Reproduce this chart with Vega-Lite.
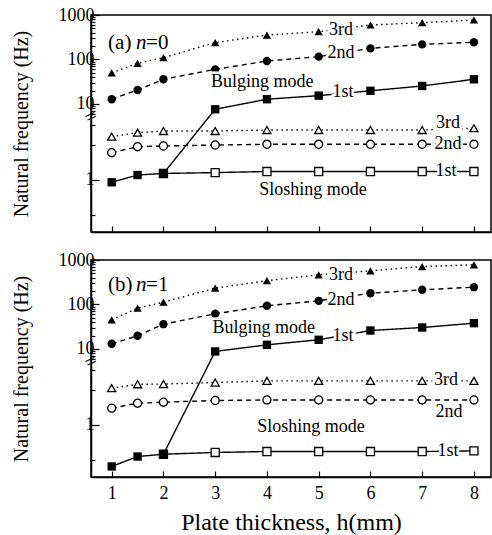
{
  "$schema": "https://vega.github.io/schema/vega-lite/v6.json",
  "padding": {"left": 10, "top": 5, "right": 2, "bottom": 4},
  "spacing": 16,
  "config": {
    "font": "Liberation Serif",
    "view": {"stroke": "black", "strokeWidth": 1.5},
    "axis": {"grid": false, "domainColor": "black", "domainWidth": 1.5, "tickColor": "black", "tickWidth": 1.2, "labelColor": "black", "titleColor": "black", "labelFont": "Liberation Serif", "titleFont": "Liberation Serif", "labelFontSize": 18, "titleFontSize": 20, "titleFontWeight": "normal"},
    "text": {"font": "Liberation Serif"}
  },
  "datasets": {
    "pts": [
      {"p":"a","s":"B","o":"3rd","x":1,"f":50},{"p":"a","s":"B","o":"3rd","x":1.5,"f":82},{"p":"a","s":"B","o":"3rd","x":2,"f":110},{"p":"a","s":"B","o":"3rd","x":3,"f":239},{"p":"a","s":"B","o":"3rd","x":4,"f":355},{"p":"a","s":"B","o":"3rd","x":5,"f":421},{"p":"a","s":"B","o":"3rd","x":6,"f":596},{"p":"a","s":"B","o":"3rd","x":7,"f":671},{"p":"a","s":"B","o":"3rd","x":8,"f":772},
      {"p":"a","s":"B","o":"2nd","x":1,"f":12.8},{"p":"a","s":"B","o":"2nd","x":1.5,"f":20.6},{"p":"a","s":"B","o":"2nd","x":2,"f":35.9},{"p":"a","s":"B","o":"2nd","x":3,"f":60},{"p":"a","s":"B","o":"2nd","x":4,"f":92.5},{"p":"a","s":"B","o":"2nd","x":5,"f":116},{"p":"a","s":"B","o":"2nd","x":6,"f":178},{"p":"a","s":"B","o":"2nd","x":7,"f":219},{"p":"a","s":"B","o":"2nd","x":8,"f":244},
      {"p":"a","s":"B","o":"1st","x":1,"f":0.955},{"p":"a","s":"B","o":"1st","x":1.5,"f":1.105},{"p":"a","s":"B","o":"1st","x":2,"f":1.14},{"p":"a","s":"B","o":"1st","x":3,"f":7.6},{"p":"a","s":"B","o":"1st","x":4,"f":12.8},{"p":"a","s":"B","o":"1st","x":5,"f":15.4},{"p":"a","s":"B","o":"1st","x":6,"f":19.8},{"p":"a","s":"B","o":"1st","x":7,"f":25.4},{"p":"a","s":"B","o":"1st","x":8,"f":35.9},
      {"p":"a","s":"S","o":"1st","x":2,"f":1.14},{"p":"a","s":"S","o":"1st","x":3,"f":1.16},{"p":"a","s":"S","o":"1st","x":4,"f":1.185},{"p":"a","s":"S","o":"1st","x":5,"f":1.185},{"p":"a","s":"S","o":"1st","x":6,"f":1.185},{"p":"a","s":"S","o":"1st","x":7,"f":1.185},{"p":"a","s":"S","o":"1st","x":8,"f":1.185},
      {"p":"a","s":"S","o":"2nd","x":1,"f":1.727},{"p":"a","s":"S","o":"2nd","x":1.5,"f":1.947},{"p":"a","s":"S","o":"2nd","x":2,"f":1.975},{"p":"a","s":"S","o":"2nd","x":3,"f":2.015},{"p":"a","s":"S","o":"2nd","x":4,"f":2.044},{"p":"a","s":"S","o":"2nd","x":5,"f":2.044},{"p":"a","s":"S","o":"2nd","x":6,"f":2.044},{"p":"a","s":"S","o":"2nd","x":7,"f":2.044},{"p":"a","s":"S","o":"2nd","x":8,"f":2.044},
      {"p":"a","s":"S","o":"3rd","x":1,"f":2.38},{"p":"a","s":"S","o":"3rd","x":1.5,"f":2.58},{"p":"a","s":"S","o":"3rd","x":2,"f":2.667},{"p":"a","s":"S","o":"3rd","x":3,"f":2.667},{"p":"a","s":"S","o":"3rd","x":4,"f":2.72},{"p":"a","s":"S","o":"3rd","x":5,"f":2.72},{"p":"a","s":"S","o":"3rd","x":6,"f":2.72},{"p":"a","s":"S","o":"3rd","x":7,"f":2.72},{"p":"a","s":"S","o":"3rd","x":8,"f":2.82},
      {"p":"b","s":"B","o":"3rd","x":1,"f":45.3},{"p":"b","s":"B","o":"3rd","x":1.5,"f":82.6},{"p":"b","s":"B","o":"3rd","x":2,"f":112.7},{"p":"b","s":"B","o":"3rd","x":3,"f":232},{"p":"b","s":"B","o":"3rd","x":4,"f":343},{"p":"b","s":"B","o":"3rd","x":5,"f":465},{"p":"b","s":"B","o":"3rd","x":6,"f":571},{"p":"b","s":"B","o":"3rd","x":7,"f":714},{"p":"b","s":"B","o":"3rd","x":8,"f":780},
      {"p":"b","s":"B","o":"2nd","x":1,"f":13.1},{"p":"b","s":"B","o":"2nd","x":1.5,"f":19.8},{"p":"b","s":"B","o":"2nd","x":2,"f":36.1},{"p":"b","s":"B","o":"2nd","x":3,"f":61.8},{"p":"b","s":"B","o":"2nd","x":4,"f":93.5},{"p":"b","s":"B","o":"2nd","x":5,"f":121},{"p":"b","s":"B","o":"2nd","x":6,"f":179},{"p":"b","s":"B","o":"2nd","x":7,"f":214},{"p":"b","s":"B","o":"2nd","x":8,"f":245},
      {"p":"b","s":"B","o":"1st","x":1,"f":0.436},{"p":"b","s":"B","o":"1st","x":1.5,"f":0.532},{"p":"b","s":"B","o":"1st","x":2,"f":0.557},{"p":"b","s":"B","o":"1st","x":3,"f":8.8},{"p":"b","s":"B","o":"1st","x":4,"f":12.4},{"p":"b","s":"B","o":"1st","x":5,"f":16.1},{"p":"b","s":"B","o":"1st","x":6,"f":26},{"p":"b","s":"B","o":"1st","x":7,"f":30.4},{"p":"b","s":"B","o":"1st","x":8,"f":38},
      {"p":"b","s":"S","o":"1st","x":2,"f":0.557},{"p":"b","s":"S","o":"1st","x":3,"f":0.577},{"p":"b","s":"S","o":"1st","x":4,"f":0.588},{"p":"b","s":"S","o":"1st","x":5,"f":0.588},{"p":"b","s":"S","o":"1st","x":6,"f":0.588},{"p":"b","s":"S","o":"1st","x":7,"f":0.588},{"p":"b","s":"S","o":"1st","x":8,"f":0.596},
      {"p":"b","s":"S","o":"2nd","x":1,"f":1.4},{"p":"b","s":"S","o":"2nd","x":1.5,"f":1.547},{"p":"b","s":"S","o":"2nd","x":2,"f":1.578},{"p":"b","s":"S","o":"2nd","x":3,"f":1.633},{"p":"b","s":"S","o":"2nd","x":4,"f":1.65},{"p":"b","s":"S","o":"2nd","x":5,"f":1.65},{"p":"b","s":"S","o":"2nd","x":6,"f":1.65},{"p":"b","s":"S","o":"2nd","x":7,"f":1.65},{"p":"b","s":"S","o":"2nd","x":8,"f":1.65},
      {"p":"b","s":"S","o":"3rd","x":1,"f":2.09},{"p":"b","s":"S","o":"3rd","x":1.5,"f":2.26},{"p":"b","s":"S","o":"3rd","x":2,"f":2.27},{"p":"b","s":"S","o":"3rd","x":3,"f":2.34},{"p":"b","s":"S","o":"3rd","x":4,"f":2.42},{"p":"b","s":"S","o":"3rd","x":5,"f":2.42},{"p":"b","s":"S","o":"3rd","x":6,"f":2.42},{"p":"b","s":"S","o":"3rd","x":7,"f":2.42},{"p":"b","s":"S","o":"3rd","x":8,"f":2.42}
    ],
    "ann": [
      {"p":"a","x":5.43,"f":460,"t":"3rd"},{"p":"a","x":5.43,"f":140,"t":"2nd"},{"p":"a","x":5.47,"f":18.6,"t":"1st"},{"p":"a","x":3.91,"f":31.2,"t":"Bulging mode"},
      {"p":"a","x":7.5,"f":3.13,"t":"3rd"},{"p":"a","x":7.5,"f":2.06,"t":"2nd"},{"p":"a","x":7.46,"f":1.2,"t":"1st"},{"p":"a","x":4.89,"f":0.819,"t":"Sloshing mode"},
      {"p":"b","x":5.43,"f":449,"t":"3rd"},{"p":"b","x":5.43,"f":128,"t":"2nd"},{"p":"b","x":5.47,"f":19.1,"t":"1st"},{"p":"b","x":3.94,"f":29.3,"t":"Bulging mode"},
      {"p":"b","x":7.46,"f":2.47,"t":"3rd"},{"p":"b","x":7.52,"f":1.31,"t":"2nd"},{"p":"b","x":7.5,"f":0.597,"t":"1st"},{"p":"b","x":4.85,"f":0.97,"t":"Sloshing mode"}
    ],
    "tag": [
      {"p":"a","x":0.93,"f":235,"t":"(a)","v":"=0"},
      {"p":"b","x":0.93,"f":281,"t":"(b)","v":"=1"}
    ]
  },
  "vconcat": [
    {
      "width": 400, "height": 217,
      "resolve": {"axis": {"y": "independent"}},
      "layer": [
        {"data": {"name": "pts"}, "transform": [{"filter": "datum.p === 'a'"}],
         "mark": {"type": "line", "color": "black", "strokeWidth": 1.4},
         "encoding": {
           "x": {"field": "x", "type": "quantitative", "scale": {"domain": [0.6, 8.33], "nice": false, "zero": false}, "axis": {"values": [1,2,3,4,5,6,7,8], "tickSize": -6, "labels": false, "title": null}},
           "y": {"field": "f", "type": "quantitative", "scale": {"type": "log", "domain": [0.353, 3.46, 5.37, 1000], "range": [217, 103, 101, 0], "nice": false, "zero": false}, "axis": {"values": [1,10,100,1000], "format": "d", "tickSize": -8, "labelPadding": 5, "title": "Natural frequency (Hz)", "titlePadding": 27}},
           "detail": {"field": "s"},
           "strokeDash": {"field": "o", "type": "nominal", "scale": {"domain": ["1st","2nd","3rd"], "range": [[1,0],[5,4],[1.5,3.5]]}, "legend": null}
         }},
        {"data": {"name": "pts"}, "transform": [{"filter": "datum.p === 'a'"}],
         "mark": {"type": "point", "opacity": 0},
         "encoding": {
           "x": {"field": "x", "type": "quantitative"},
           "y": {"field": "f", "type": "quantitative", "axis": {"orient": "left", "values": [0.5,2,3,6,7,8,9,20,30,40,50,60,70,80,90,200,300,400,500,600,700,800,900], "labels": false, "domain": false, "tickSize": -4, "title": null}}
         }},
        {"data": {"name": "pts"}, "transform": [{"filter": "datum.p === 'a' && datum.s === 'S'"}],
         "mark": {"type": "point", "filled": true, "fill": "white", "stroke": "black", "strokeWidth": 1.3, "opacity": 1, "size": 65},
         "encoding": {
           "x": {"field": "x", "type": "quantitative"},
           "y": {"field": "f", "type": "quantitative", "axis": null},
           "shape": {"field": "o", "type": "nominal", "scale": {"domain": ["1st","2nd","3rd"], "range": ["square","circle","triangle-up"]}, "legend": null}
         }},
        {"data": {"name": "pts"}, "transform": [{"filter": "datum.p === 'a' && datum.s === 'B'"}],
         "mark": {"type": "point", "filled": true, "color": "black", "opacity": 1, "size": 70},
         "encoding": {
           "x": {"field": "x", "type": "quantitative"},
           "y": {"field": "f", "type": "quantitative", "axis": null},
           "shape": {"field": "o", "type": "nominal", "legend": null}
         }},
        {"data": {"name": "ann"}, "transform": [{"filter": "datum.p === 'a'"}],
         "mark": {"type": "text", "font": "Liberation Serif", "fontSize": 18, "stroke": "white", "strokeWidth": 5, "fill": "white"},
         "encoding": {"x": {"field": "x", "type": "quantitative"}, "y": {"field": "f", "type": "quantitative", "axis": null}, "text": {"field": "t"}}},
        {"data": {"name": "ann"}, "transform": [{"filter": "datum.p === 'a'"}],
         "mark": {"type": "text", "font": "Liberation Serif", "fontSize": 18, "color": "black"},
         "encoding": {"x": {"field": "x", "type": "quantitative"}, "y": {"field": "f", "type": "quantitative", "axis": null}, "text": {"field": "t"}}},
        {"data": {"name": "tag"}, "transform": [{"filter": "datum.p === 'a'"}],
         "mark": {"type": "text", "font": "Liberation Serif", "fontSize": 21, "align": "left", "color": "black"},
         "encoding": {"x": {"field": "x", "type": "quantitative"}, "y": {"field": "f", "type": "quantitative", "axis": null}, "text": {"field": "t"}}},
        {"data": {"name": "tag"}, "transform": [{"filter": "datum.p === 'a'"}],
         "mark": {"type": "text", "font": "Liberation Serif", "fontSize": 21, "align": "left", "color": "black", "fontStyle": "italic", "dx": 28},
         "encoding": {"x": {"field": "x", "type": "quantitative"}, "y": {"field": "f", "type": "quantitative", "axis": null}, "text": {"value": "n"}}},
        {"data": {"name": "tag"}, "transform": [{"filter": "datum.p === 'a'"}],
         "mark": {"type": "text", "font": "Liberation Serif", "fontSize": 21, "align": "left", "color": "black", "dx": 38},
         "encoding": {"x": {"field": "x", "type": "quantitative"}, "y": {"field": "f", "type": "quantitative", "axis": null}, "text": {"field": "v"}}},
        {"data": {"values": [{}]},
         "mark": {"type": "text", "font": "Liberation Serif", "fontSize": 20, "angle": 335, "color": "black", "clip": false},
         "encoding": {"x": {"datum": 0.6, "type": "quantitative"}, "y": {"datum": 4.3, "type": "quantitative", "axis": null}, "text": {"value": "="}}}
      ]
    },
    {
      "width": 400, "height": 217,
      "resolve": {"axis": {"y": "independent"}},
      "layer": [
        {"data": {"name": "pts"}, "transform": [{"filter": "datum.p === 'b'"}],
         "mark": {"type": "line", "color": "black", "strokeWidth": 1.4},
         "encoding": {
           "x": {"field": "x", "type": "quantitative", "scale": {"domain": [0.6, 8.33], "nice": false, "zero": false}, "axis": {"values": [1,2,3,4,5,6,7,8], "tickSize": -6, "labelPadding": 13, "title": "Plate thickness, h(mm)", "titleFontSize": 24, "titlePadding": 8}},
           "y": {"field": "f", "type": "quantitative", "scale": {"type": "log", "domain": [0.353, 3.46, 5.37, 1000], "range": [217, 103, 101, 0], "nice": false, "zero": false}, "axis": {"values": [1,10,100,1000], "format": "d", "tickSize": -8, "labelPadding": 5, "title": "Natural frequency (Hz)", "titlePadding": 27}},
           "detail": {"field": "s"},
           "strokeDash": {"field": "o", "type": "nominal", "scale": {"domain": ["1st","2nd","3rd"], "range": [[1,0],[5,4],[1.5,3.5]]}, "legend": null}
         }},
        {"data": {"name": "pts"}, "transform": [{"filter": "datum.p === 'b'"}],
         "mark": {"type": "point", "opacity": 0},
         "encoding": {
           "x": {"field": "x", "type": "quantitative"},
           "y": {"field": "f", "type": "quantitative", "axis": {"orient": "left", "values": [0.5,2,3,6,7,8,9,20,30,40,50,60,70,80,90,200,300,400,500,600,700,800,900], "labels": false, "domain": false, "tickSize": -4, "title": null}}
         }},
        {"data": {"name": "pts"}, "transform": [{"filter": "datum.p === 'b' && datum.s === 'S'"}],
         "mark": {"type": "point", "filled": true, "fill": "white", "stroke": "black", "strokeWidth": 1.3, "opacity": 1, "size": 65},
         "encoding": {
           "x": {"field": "x", "type": "quantitative"},
           "y": {"field": "f", "type": "quantitative", "axis": null},
           "shape": {"field": "o", "type": "nominal", "scale": {"domain": ["1st","2nd","3rd"], "range": ["square","circle","triangle-up"]}, "legend": null}
         }},
        {"data": {"name": "pts"}, "transform": [{"filter": "datum.p === 'b' && datum.s === 'B'"}],
         "mark": {"type": "point", "filled": true, "color": "black", "opacity": 1, "size": 70},
         "encoding": {
           "x": {"field": "x", "type": "quantitative"},
           "y": {"field": "f", "type": "quantitative", "axis": null},
           "shape": {"field": "o", "type": "nominal", "legend": null}
         }},
        {"data": {"name": "ann"}, "transform": [{"filter": "datum.p === 'b'"}],
         "mark": {"type": "text", "font": "Liberation Serif", "fontSize": 18, "stroke": "white", "strokeWidth": 5, "fill": "white"},
         "encoding": {"x": {"field": "x", "type": "quantitative"}, "y": {"field": "f", "type": "quantitative", "axis": null}, "text": {"field": "t"}}},
        {"data": {"name": "ann"}, "transform": [{"filter": "datum.p === 'b'"}],
         "mark": {"type": "text", "font": "Liberation Serif", "fontSize": 18, "color": "black"},
         "encoding": {"x": {"field": "x", "type": "quantitative"}, "y": {"field": "f", "type": "quantitative", "axis": null}, "text": {"field": "t"}}},
        {"data": {"name": "tag"}, "transform": [{"filter": "datum.p === 'b'"}],
         "mark": {"type": "text", "font": "Liberation Serif", "fontSize": 21, "align": "left", "color": "black"},
         "encoding": {"x": {"field": "x", "type": "quantitative"}, "y": {"field": "f", "type": "quantitative", "axis": null}, "text": {"field": "t"}}},
        {"data": {"name": "tag"}, "transform": [{"filter": "datum.p === 'b'"}],
         "mark": {"type": "text", "font": "Liberation Serif", "fontSize": 21, "align": "left", "color": "black", "fontStyle": "italic", "dx": 28},
         "encoding": {"x": {"field": "x", "type": "quantitative"}, "y": {"field": "f", "type": "quantitative", "axis": null}, "text": {"value": "n"}}},
        {"data": {"name": "tag"}, "transform": [{"filter": "datum.p === 'b'"}],
         "mark": {"type": "text", "font": "Liberation Serif", "fontSize": 21, "align": "left", "color": "black", "dx": 38},
         "encoding": {"x": {"field": "x", "type": "quantitative"}, "y": {"field": "f", "type": "quantitative", "axis": null}, "text": {"field": "v"}}},
        {"data": {"values": [{}]},
         "mark": {"type": "text", "font": "Liberation Serif", "fontSize": 20, "angle": 335, "color": "black", "clip": false},
         "encoding": {"x": {"datum": 0.6, "type": "quantitative"}, "y": {"datum": 4.3, "type": "quantitative", "axis": null}, "text": {"value": "="}}}
      ]
    }
  ]
}
